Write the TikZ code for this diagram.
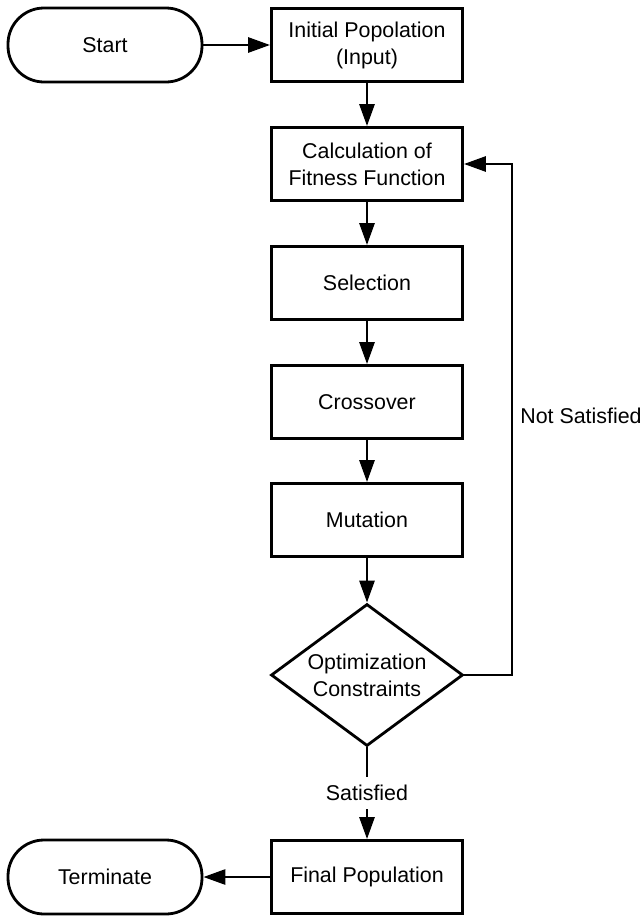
\documentclass[tikz,border=0pt]{standalone}
\usepackage{fontspec}
\setmainfont{Liberation Sans}
\usetikzlibrary{shapes.geometric,arrows.meta}

\begin{document}
\begin{tikzpicture}[x=0.5pt,y=-0.5pt,line width=1.4pt,
  font=\fontsize{10.7}{13.5}\selectfont,
  proc/.style={draw,rectangle,minimum width=95.5pt,minimum height=36.5pt,align=center,inner sep=2pt},
  term/.style={draw,rectangle,rounded corners=18pt,minimum width=97pt,minimum height=37pt},
  dec/.style={draw,diamond,aspect=1.35,minimum width=96pt,minimum height=71pt,inner sep=0pt,align=center},
  arr/.style={-{Triangle[length=11pt,width=7.5pt]}}]
  \useasboundingbox (0,0) rectangle (642,916);
  \node[term] (start) at (105,45) {Start};
  \node[proc] (init) at (367,45) {Initial Popolation\\(Input)};
  \node[proc] (fit) at (367,164) {Calculation of\\Fitness Function};
  \node[proc] (sel) at (367,283) {Selection};
  \node[proc] (cross) at (367,402) {Crossover};
  \node[proc] (mut) at (367,520) {Mutation};
  \node[dec] (opt) at (367,675) {Optimization\\Constraints};
  \node[proc] (final) at (367,877) {Final Population};
  \node[term] (term) at (105,877) {Terminate};
  \coordinate (loop) at (512,675);
  \node (notsat) at (581,416) {Not Satisfied};
 \draw[arr] (start)--(init);
  \draw[arr] (init)--(fit);
  \draw[arr] (fit)--(sel);
  \draw[arr] (sel)--(cross);
  \draw[arr] (cross)--(mut);
  \draw[arr] (mut)--(opt);
  \draw[arr] (opt)--node[fill=white,inner sep=4pt] {Satisfied} (final);
  \draw[arr] (opt.east)--(loop)|-(fit.east);
  \draw[arr] (final)--(term);
\end{tikzpicture}
\end{document}
